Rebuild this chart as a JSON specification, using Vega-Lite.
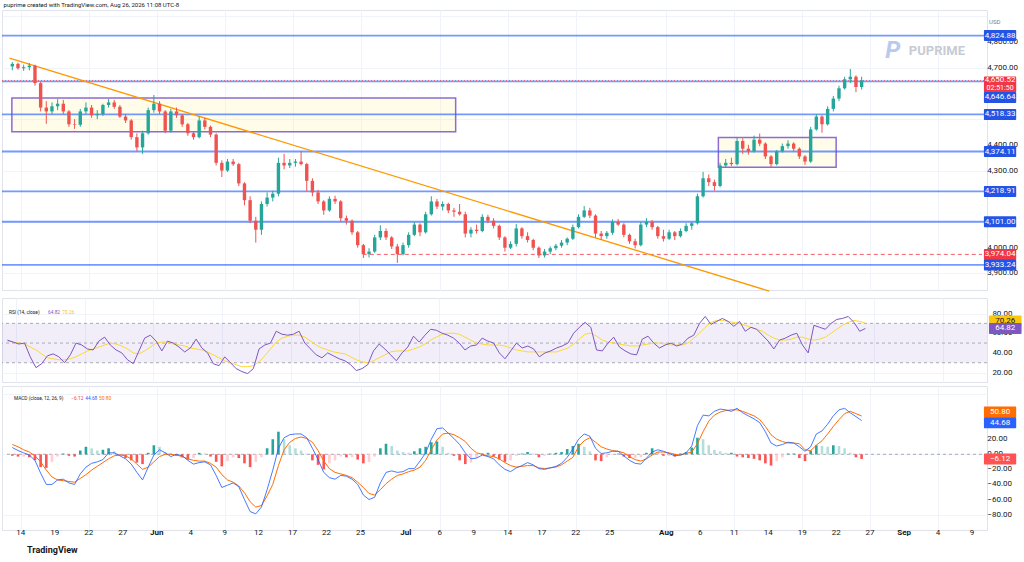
{
  "$schema": "https://vega.github.io/schema/vega-lite/v6.json",
  "background": "white",
  "padding": {"left": 0, "top": 1, "right": 0, "bottom": 0},
  "spacing": 2,
  "title": {"text": "puprime created with TradingView.com, Aug 26, 2026 11:08 UTC-8", "anchor": "start", "fontSize": 6, "fontWeight": "normal", "color": "#131722", "offset": 2, "dx": 3},
  "config": {
    "font": "Roboto",
    "view": {"stroke": "#e0e3eb"},
    "axis": {"labels": false, "gridColor": "#f0f3fa", "domain": false, "ticks": false, "title": null, "labelPadding": 0, "minExtent": 0, "maxExtent": 0},
    "text": {"font": "Roboto"}
  },
  "datasets": {
    "bars": [
      {"t":-0.75,"o":4705,"h":4722,"l":4690,"c":4715,"rsi":53,"rma":52,"macd":9,"sig":13,"hist":-2},
      {"t":-0.25,"o":4715,"h":4720,"l":4692,"c":4698,"rsi":51,"rma":51,"macd":5,"sig":10,"hist":-3},
      {"t":0.25,"o":4698,"h":4712,"l":4688,"c":4702,"rsi":49,"rma":50,"macd":2,"sig":6,"hist":-3},
      {"t":0.75,"o":4702,"h":4718,"l":4690,"c":4708,"rsi":50,"rma":49,"macd":-1,"sig":3,"hist":-4},
      {"t":1.25,"o":4708,"h":4712,"l":4630,"c":4640,"rsi":36,"rma":46,"macd":-8,"sig":-2,"hist":-8},
      {"t":1.75,"o":4640,"h":4645,"l":4530,"c":4545,"rsi":25,"rma":43,"macd":-25,"sig":-10,"hist":-17},
      {"t":2.25,"o":4545,"h":4570,"l":4482,"c":4530,"rsi":29,"rma":39,"macd":-40,"sig":-21,"hist":-18},
      {"t":2.75,"o":4530,"h":4565,"l":4520,"c":4550,"rsi":37,"rma":35,"macd":-40,"sig":-30,"hist":-10},
      {"t":3.25,"o":4550,"h":4578,"l":4535,"c":4560,"rsi":39,"rma":34,"macd":-34,"sig":-34,"hist":-3},
      {"t":3.75,"o":4560,"h":4575,"l":4520,"c":4530,"rsi":36,"rma":33,"macd":-33,"sig":-35,"hist":1},
      {"t":4.25,"o":4530,"h":4535,"l":4470,"c":4480,"rsi":30,"rma":33,"macd":-38,"sig":-36,"hist":-2},
      {"t":4.75,"o":4480,"h":4500,"l":4462,"c":4478,"rsi":38,"rma":34,"macd":-40,"sig":-37,"hist":-3},
      {"t":5.25,"o":4478,"h":4540,"l":4470,"c":4530,"rsi":50,"rma":36,"macd":-26,"sig":-32,"hist":5},
      {"t":5.75,"o":4530,"h":4565,"l":4520,"c":4545,"rsi":48,"rma":39,"macd":-17,"sig":-27,"hist":10},
      {"t":6.25,"o":4545,"h":4555,"l":4505,"c":4515,"rsi":44,"rma":42,"macd":-12,"sig":-21,"hist":8},
      {"t":6.75,"o":4515,"h":4535,"l":4500,"c":4520,"rsi":43,"rma":44,"macd":-10,"sig":-16,"hist":5},
      {"t":7.25,"o":4520,"h":4560,"l":4512,"c":4555,"rsi":52,"rma":46,"macd":-7,"sig":-11,"hist":6},
      {"t":7.75,"o":4555,"h":4578,"l":4545,"c":4565,"rsi":56,"rma":48,"macd":2,"sig":-6,"hist":8},
      {"t":8.25,"o":4565,"h":4575,"l":4540,"c":4548,"rsi":48,"rma":50,"macd":2,"sig":-2,"hist":4},
      {"t":8.75,"o":4548,"h":4555,"l":4505,"c":4510,"rsi":43,"rma":49,"macd":-2,"sig":-1,"hist":-1},
      {"t":9.25,"o":4510,"h":4520,"l":4485,"c":4495,"rsi":40,"rma":47,"macd":-6,"sig":-2,"hist":-5},
      {"t":9.75,"o":4495,"h":4500,"l":4420,"c":4430,"rsi":33,"rma":44,"macd":-13,"sig":-6,"hist":-8},
      {"t":10.25,"o":4430,"h":4445,"l":4375,"c":4390,"rsi":29,"rma":40,"macd":-24,"sig":-13,"hist":-11},
      {"t":10.75,"o":4390,"h":4455,"l":4365,"c":4445,"rsi":42,"rma":39,"macd":-34,"sig":-20,"hist":-13},
      {"t":11.25,"o":4445,"h":4545,"l":4440,"c":4535,"rsi":55,"rma":42,"macd":-17,"sig":-17,"hist":2},
      {"t":11.75,"o":4535,"h":4594,"l":4525,"c":4560,"rsi":58,"rma":46,"macd":-1,"sig":-10,"hist":12},
      {"t":12.25,"o":4560,"h":4570,"l":4520,"c":4530,"rsi":52,"rma":50,"macd":6,"sig":-3,"hist":10},
      {"t":12.75,"o":4530,"h":4535,"l":4445,"c":4455,"rsi":42,"rma":51,"macd":2,"sig":0,"hist":3},
      {"t":13.25,"o":4455,"h":4540,"l":4448,"c":4530,"rsi":52,"rma":51,"macd":-3,"sig":0,"hist":2},
      {"t":13.75,"o":4530,"h":4545,"l":4505,"c":4515,"rsi":50,"rma":49,"macd":0,"sig":-1,"hist":-2},
      {"t":14.25,"o":4515,"h":4520,"l":4470,"c":4480,"rsi":46,"rma":48,"macd":-2,"sig":-3,"hist":-4},
      {"t":14.75,"o":4480,"h":4485,"l":4435,"c":4445,"rsi":41,"rma":47,"macd":-8,"sig":-6,"hist":-7},
      {"t":15.25,"o":4445,"h":4450,"l":4420,"c":4430,"rsi":45,"rma":45,"macd":-13,"sig":-8,"hist":-5},
      {"t":15.75,"o":4430,"h":4511,"l":4425,"c":4495,"rsi":54,"rma":44,"macd":-11,"sig":-9,"hist":2},
      {"t":16.25,"o":4495,"h":4505,"l":4460,"c":4470,"rsi":45,"rma":43,"macd":-10,"sig":-9,"hist":1},
      {"t":16.75,"o":4470,"h":4475,"l":4430,"c":4440,"rsi":40,"rma":41,"macd":-14,"sig":-12,"hist":-3},
      {"t":17.25,"o":4440,"h":4445,"l":4320,"c":4330,"rsi":29,"rma":38,"macd":-28,"sig":-17,"hist":-10},
      {"t":17.75,"o":4330,"h":4340,"l":4275,"c":4300,"rsi":27,"rma":35,"macd":-44,"sig":-27,"hist":-16},
      {"t":18.25,"o":4300,"h":4345,"l":4295,"c":4335,"rsi":36,"rma":32,"macd":-41,"sig":-34,"hist":-9},
      {"t":18.75,"o":4335,"h":4345,"l":4318,"c":4325,"rsi":30,"rma":30,"macd":-38,"sig":-37,"hist":-4},
      {"t":19.25,"o":4325,"h":4330,"l":4240,"c":4250,"rsi":24,"rma":28,"macd":-43,"sig":-42,"hist":-5},
      {"t":19.75,"o":4250,"h":4255,"l":4165,"c":4185,"rsi":21,"rma":26,"macd":-60,"sig":-51,"hist":-12},
      {"t":20.25,"o":4185,"h":4200,"l":4095,"c":4105,"rsi":19,"rma":26,"macd":-76,"sig":-63,"hist":-17},
      {"t":20.75,"o":4105,"h":4120,"l":4020,"c":4070,"rsi":24,"rma":27,"macd":-79,"sig":-70,"hist":-10},
      {"t":21.25,"o":4070,"h":4180,"l":4050,"c":4170,"rsi":44,"rma":31,"macd":-70,"sig":-68,"hist":-4},
      {"t":21.75,"o":4170,"h":4215,"l":4160,"c":4195,"rsi":48,"rma":37,"macd":-47,"sig":-55,"hist":8},
      {"t":22.25,"o":4195,"h":4222,"l":4180,"c":4210,"rsi":50,"rma":44,"macd":-21,"sig":-40,"hist":20},
      {"t":22.75,"o":4210,"h":4350,"l":4200,"c":4330,"rsi":62,"rma":51,"macd":8,"sig":-15,"hist":30},
      {"t":23.25,"o":4330,"h":4365,"l":4305,"c":4320,"rsi":59,"rma":55,"macd":22,"sig":6,"hist":20},
      {"t":23.75,"o":4320,"h":4345,"l":4310,"c":4330,"rsi":58,"rma":57,"macd":26,"sig":16,"hist":12},
      {"t":24.25,"o":4330,"h":4345,"l":4315,"c":4335,"rsi":59,"rma":58,"macd":27,"sig":21,"hist":8},
      {"t":24.75,"o":4335,"h":4376,"l":4320,"c":4325,"rsi":62,"rma":58,"macd":27,"sig":23,"hist":5},
      {"t":25.25,"o":4325,"h":4330,"l":4220,"c":4260,"rsi":50,"rma":56,"macd":22,"sig":21,"hist":1},
      {"t":25.75,"o":4260,"h":4270,"l":4200,"c":4215,"rsi":44,"rma":52,"macd":8,"sig":16,"hist":-8},
      {"t":26.25,"o":4215,"h":4225,"l":4170,"c":4180,"rsi":38,"rma":48,"macd":-7,"sig":5,"hist":-14},
      {"t":26.75,"o":4180,"h":4185,"l":4128,"c":4145,"rsi":35,"rma":45,"macd":-24,"sig":-9,"hist":-20},
      {"t":27.25,"o":4145,"h":4200,"l":4140,"c":4190,"rsi":40,"rma":43,"macd":-31,"sig":-19,"hist":-12},
      {"t":27.75,"o":4190,"h":4202,"l":4170,"c":4180,"rsi":37,"rma":41,"macd":-33,"sig":-24,"hist":-8},
      {"t":28.25,"o":4180,"h":4185,"l":4100,"c":4115,"rsi":34,"rma":40,"macd":-28,"sig":-26,"hist":-3},
      {"t":28.75,"o":4115,"h":4125,"l":4090,"c":4105,"rsi":32,"rma":39,"macd":-29,"sig":-28,"hist":-4},
      {"t":29.25,"o":4105,"h":4110,"l":4050,"c":4060,"rsi":28,"rma":36,"macd":-33,"sig":-31,"hist":-4},
      {"t":29.75,"o":4060,"h":4065,"l":4000,"c":4010,"rsi":22,"rma":33,"macd":-40,"sig":-37,"hist":-7},
      {"t":30.25,"o":4010,"h":4015,"l":3960,"c":3975,"rsi":24,"rma":31,"macd":-54,"sig":-44,"hist":-12},
      {"t":30.75,"o":3975,"h":3998,"l":3962,"c":3985,"rsi":28,"rma":30,"macd":-60,"sig":-52,"hist":-10},
      {"t":31.25,"o":3985,"h":4050,"l":3980,"c":4040,"rsi":42,"rma":32,"macd":-57,"sig":-54,"hist":-3},
      {"t":31.75,"o":4040,"h":4087,"l":4030,"c":4065,"rsi":49,"rma":35,"macd":-38,"sig":-47,"hist":8},
      {"t":32.25,"o":4065,"h":4075,"l":4030,"c":4040,"rsi":44,"rma":38,"macd":-24,"sig":-39,"hist":14},
      {"t":32.75,"o":4040,"h":4045,"l":3995,"c":4005,"rsi":38,"rma":41,"macd":-22,"sig":-33,"hist":11},
      {"t":33.25,"o":4005,"h":4015,"l":3941,"c":3975,"rsi":32,"rma":42,"macd":-24,"sig":-28,"hist":5},
      {"t":33.75,"o":3975,"h":4020,"l":3970,"c":4010,"rsi":40,"rma":42,"macd":-23,"sig":-26,"hist":3},
      {"t":34.25,"o":4010,"h":4060,"l":4000,"c":4050,"rsi":46,"rma":42,"macd":-19,"sig":-23,"hist":2},
      {"t":34.75,"o":4050,"h":4100,"l":4045,"c":4090,"rsi":57,"rma":44,"macd":-19,"sig":-21,"hist":4},
      {"t":35.25,"o":4090,"h":4095,"l":4045,"c":4060,"rsi":51,"rma":46,"macd":-9,"sig":-17,"hist":8},
      {"t":35.75,"o":4060,"h":4140,"l":4055,"c":4130,"rsi":58,"rma":49,"macd":2,"sig":-8,"hist":10},
      {"t":36.25,"o":4130,"h":4200,"l":4125,"c":4180,"rsi":64,"rma":53,"macd":20,"sig":6,"hist":16},
      {"t":36.75,"o":4180,"h":4190,"l":4150,"c":4160,"rsi":63,"rma":56,"macd":34,"sig":19,"hist":17},
      {"t":37.25,"o":4160,"h":4180,"l":4145,"c":4170,"rsi":60,"rma":59,"macd":35,"sig":27,"hist":10},
      {"t":37.75,"o":4170,"h":4175,"l":4135,"c":4145,"rsi":58,"rma":60,"macd":28,"sig":28,"hist":2},
      {"t":38.25,"o":4145,"h":4155,"l":4120,"c":4140,"rsi":55,"rma":60,"macd":21,"sig":26,"hist":-2},
      {"t":38.75,"o":4140,"h":4170,"l":4125,"c":4130,"rsi":50,"rma":59,"macd":13,"sig":22,"hist":-8},
      {"t":39.25,"o":4130,"h":4140,"l":4040,"c":4055,"rsi":43,"rma":56,"macd":2,"sig":17,"hist":-13},
      {"t":39.75,"o":4055,"h":4080,"l":4040,"c":4070,"rsi":47,"rma":53,"macd":-6,"sig":8,"hist":-11},
      {"t":40.25,"o":4070,"h":4090,"l":4055,"c":4065,"rsi":48,"rma":50,"macd":-5,"sig":2,"hist":-5},
      {"t":40.75,"o":4065,"h":4130,"l":4060,"c":4120,"rsi":55,"rma":49,"macd":-1,"sig":0,"hist":1},
      {"t":41.25,"o":4120,"h":4128,"l":4095,"c":4105,"rsi":52,"rma":48,"macd":-3,"sig":-2,"hist":2},
      {"t":41.75,"o":4105,"h":4115,"l":4075,"c":4085,"rsi":50,"rma":48,"macd":-6,"sig":-3,"hist":-3},
      {"t":42.25,"o":4085,"h":4090,"l":4030,"c":4040,"rsi":40,"rma":48,"macd":-14,"sig":-6,"hist":-7},
      {"t":42.75,"o":4040,"h":4045,"l":3985,"c":4000,"rsi":34,"rma":47,"macd":-20,"sig":-11,"hist":-10},
      {"t":43.25,"o":4000,"h":4025,"l":3995,"c":4015,"rsi":42,"rma":45,"macd":-23,"sig":-15,"hist":-8},
      {"t":43.75,"o":4015,"h":4092,"l":4005,"c":4075,"rsi":50,"rma":43,"macd":-18,"sig":-17,"hist":-2},
      {"t":44.25,"o":4075,"h":4080,"l":4035,"c":4045,"rsi":45,"rma":42,"macd":-15,"sig":-16,"hist":1},
      {"t":44.75,"o":4045,"h":4060,"l":4020,"c":4030,"rsi":47,"rma":41,"macd":-11,"sig":-15,"hist":3},
      {"t":45.25,"o":4030,"h":4035,"l":3990,"c":4000,"rsi":44,"rma":41,"macd":-14,"sig":-15,"hist":1},
      {"t":45.75,"o":4000,"h":4005,"l":3960,"c":3970,"rsi":36,"rma":41,"macd":-19,"sig":-18,"hist":-4},
      {"t":46.25,"o":3970,"h":3995,"l":3962,"c":3985,"rsi":40,"rma":41,"macd":-20,"sig":-19,"hist":-2},
      {"t":46.75,"o":3985,"h":4005,"l":3975,"c":3998,"rsi":42,"rma":41,"macd":-18,"sig":-18,"hist":1},
      {"t":47.25,"o":3998,"h":4015,"l":3990,"c":4008,"rsi":45,"rma":41,"macd":-16,"sig":-17,"hist":2},
      {"t":47.75,"o":4008,"h":4030,"l":4000,"c":4020,"rsi":47,"rma":43,"macd":-12,"sig":-14,"hist":3},
      {"t":48.25,"o":4020,"h":4040,"l":4010,"c":4035,"rsi":50,"rma":45,"macd":-4,"sig":-9,"hist":7},
      {"t":48.75,"o":4035,"h":4090,"l":4030,"c":4080,"rsi":60,"rma":49,"macd":7,"sig":-4,"hist":11},
      {"t":49.25,"o":4080,"h":4130,"l":4075,"c":4120,"rsi":66,"rma":54,"macd":20,"sig":10,"hist":14},
      {"t":49.75,"o":4120,"h":4162,"l":4115,"c":4145,"rsi":71,"rma":59,"macd":27,"sig":18,"hist":10},
      {"t":50.25,"o":4145,"h":4155,"l":4115,"c":4125,"rsi":66,"rma":60,"macd":24,"sig":22,"hist":4},
      {"t":50.75,"o":4125,"h":4130,"l":4040,"c":4055,"rsi":43,"rma":57,"macd":8,"sig":16,"hist":-8},
      {"t":51.25,"o":4055,"h":4065,"l":4030,"c":4045,"rsi":42,"rma":53,"macd":1,"sig":10,"hist":-9},
      {"t":51.75,"o":4045,"h":4065,"l":4035,"c":4058,"rsi":50,"rma":51,"macd":2,"sig":7,"hist":-4},
      {"t":52.25,"o":4058,"h":4110,"l":4050,"c":4100,"rsi":56,"rma":50,"macd":4,"sig":5,"hist":-1},
      {"t":52.75,"o":4100,"h":4112,"l":4085,"c":4090,"rsi":46,"rma":49,"macd":4,"sig":4,"hist":1},
      {"t":53.25,"o":4090,"h":4095,"l":4040,"c":4050,"rsi":42,"rma":48,"macd":-2,"sig":2,"hist":-3},
      {"t":53.75,"o":4050,"h":4055,"l":4015,"c":4025,"rsi":39,"rma":47,"macd":-8,"sig":-3,"hist":-5},
      {"t":54.25,"o":4025,"h":4035,"l":3997,"c":4010,"rsi":38,"rma":47,"macd":-12,"sig":-7,"hist":-5},
      {"t":54.75,"o":4010,"h":4100,"l":4005,"c":4090,"rsi":54,"rma":48,"macd":-13,"sig":-9,"hist":-4},
      {"t":55.25,"o":4090,"h":4115,"l":4080,"c":4100,"rsi":57,"rma":49,"macd":-5,"sig":-6,"hist":2},
      {"t":55.75,"o":4100,"h":4108,"l":4070,"c":4080,"rsi":50,"rma":50,"macd":3,"sig":-1,"hist":8},
      {"t":56.25,"o":4080,"h":4085,"l":4035,"c":4045,"rsi":45,"rma":50,"macd":6,"sig":3,"hist":3},
      {"t":56.75,"o":4045,"h":4070,"l":4024,"c":4035,"rsi":48,"rma":49,"macd":4,"sig":3,"hist":-2},
      {"t":57.25,"o":4035,"h":4070,"l":4030,"c":4060,"rsi":50,"rma":48,"macd":1,"sig":2,"hist":-2},
      {"t":57.75,"o":4060,"h":4065,"l":4030,"c":4045,"rsi":47,"rma":48,"macd":-2,"sig":0,"hist":-3},
      {"t":58.25,"o":4045,"h":4075,"l":4040,"c":4065,"rsi":49,"rma":48,"macd":-1,"sig":-1,"hist":1},
      {"t":58.75,"o":4065,"h":4095,"l":4060,"c":4085,"rsi":55,"rma":50,"macd":2,"sig":1,"hist":3},
      {"t":59.25,"o":4085,"h":4100,"l":4070,"c":4095,"rsi":58,"rma":55,"macd":11,"sig":3,"hist":9},
      {"t":59.75,"o":4095,"h":4210,"l":4090,"c":4200,"rsi":70,"rma":60,"macd":38,"sig":14,"hist":22},
      {"t":60.25,"o":4200,"h":4295,"l":4195,"c":4270,"rsi":77,"rma":66,"macd":52,"sig":30,"hist":20},
      {"t":60.75,"o":4270,"h":4285,"l":4240,"c":4255,"rsi":69,"rma":71,"macd":51,"sig":44,"hist":12},
      {"t":61.25,"o":4255,"h":4265,"l":4222,"c":4240,"rsi":72,"rma":73,"macd":57,"sig":52,"hist":6},
      {"t":61.75,"o":4240,"h":4330,"l":4235,"c":4320,"rsi":75,"rma":73,"macd":60,"sig":56,"hist":4},
      {"t":62.25,"o":4320,"h":4345,"l":4312,"c":4330,"rsi":72,"rma":72,"macd":59,"sig":58,"hist":2},
      {"t":62.75,"o":4330,"h":4350,"l":4318,"c":4325,"rsi":67,"rma":71,"macd":57,"sig":59,"hist":2},
      {"t":63.25,"o":4325,"h":4429,"l":4320,"c":4415,"rsi":72,"rma":70,"macd":61,"sig":59,"hist":-3},
      {"t":63.75,"o":4415,"h":4425,"l":4365,"c":4385,"rsi":62,"rma":68,"macd":55,"sig":57,"hist":-4},
      {"t":64.25,"o":4385,"h":4400,"l":4362,"c":4375,"rsi":66,"rma":66,"macd":51,"sig":54,"hist":-5},
      {"t":64.75,"o":4375,"h":4436,"l":4370,"c":4420,"rsi":64,"rma":64,"macd":47,"sig":51,"hist":-6},
      {"t":65.25,"o":4420,"h":4444,"l":4395,"c":4405,"rsi":58,"rma":62,"macd":42,"sig":46,"hist":-8},
      {"t":65.75,"o":4405,"h":4410,"l":4345,"c":4355,"rsi":52,"rma":58,"macd":30,"sig":37,"hist":-12},
      {"t":66.25,"o":4355,"h":4360,"l":4312,"c":4325,"rsi":44,"rma":55,"macd":15,"sig":26,"hist":-15},
      {"t":66.75,"o":4325,"h":4380,"l":4320,"c":4375,"rsi":53,"rma":53,"macd":11,"sig":20,"hist":-9},
      {"t":67.25,"o":4375,"h":4405,"l":4370,"c":4395,"rsi":55,"rma":53,"macd":13,"sig":17,"hist":-4},
      {"t":67.75,"o":4395,"h":4418,"l":4385,"c":4405,"rsi":58,"rma":54,"macd":16,"sig":15,"hist":1},
      {"t":68.25,"o":4405,"h":4410,"l":4375,"c":4385,"rsi":60,"rma":56,"macd":15,"sig":15,"hist":1},
      {"t":68.75,"o":4385,"h":4390,"l":4345,"c":4355,"rsi":48,"rma":56,"macd":10,"sig":14,"hist":-5},
      {"t":69.25,"o":4355,"h":4360,"l":4322,"c":4335,"rsi":40,"rma":54,"macd":4,"sig":6,"hist":-9},
      {"t":69.75,"o":4335,"h":4470,"l":4330,"c":4460,"rsi":68,"rma":53,"macd":10,"sig":5,"hist":5},
      {"t":70.25,"o":4460,"h":4520,"l":4455,"c":4510,"rsi":66,"rma":54,"macd":27,"sig":12,"hist":12},
      {"t":70.75,"o":4510,"h":4515,"l":4447,"c":4480,"rsi":64,"rma":56,"macd":31,"sig":18,"hist":11},
      {"t":71.25,"o":4480,"h":4550,"l":4475,"c":4540,"rsi":70,"rma":60,"macd":40,"sig":27,"hist":10},
      {"t":71.75,"o":4540,"h":4590,"l":4530,"c":4580,"rsi":74,"rma":64,"macd":51,"sig":37,"hist":12},
      {"t":72.25,"o":4580,"h":4630,"l":4570,"c":4620,"rsi":75,"rma":68,"macd":59,"sig":46,"hist":11},
      {"t":72.75,"o":4620,"h":4665,"l":4615,"c":4655,"rsi":77,"rma":71,"macd":61,"sig":54,"hist":8},
      {"t":73.25,"o":4655,"h":4695,"l":4640,"c":4665,"rsi":71,"rma":73,"macd":55,"sig":57,"hist":2},
      {"t":73.75,"o":4665,"h":4670,"l":4605,"c":4625,"rsi":62,"rma":72,"macd":50,"sig":54,"hist":-4},
      {"t":74.25,"o":4625,"h":4665,"l":4615,"c":4650.52,"rsi":64.82,"rma":70.26,"macd":44.68,"sig":50.8,"hist":-6.12}
    ],
    "levels": [
      {"p": 4824.88}, {"p": 4646.64}, {"p": 4518.33}, {"p": 4374.11}, {"p": 4218.91}, {"p": 4101.00}, {"p": 3933.24}
    ],
    "zones": [
      {"t1": -0.79, "t2": 38.4, "p1": 4451, "p2": 4582},
      {"t1": 61.6, "t2": 72.0, "p1": 4313, "p2": 4429}
    ],
    "trend": [
      {"t": -1.0, "p": 4737},
      {"t": 66.1, "p": 3831}
    ],
    "ptags": [
      {"p": 4824.88, "label": "4,824.88", "kind": "level"},
      {"p": 4518.33, "label": "4,518.33", "kind": "level"},
      {"p": 4374.11, "label": "4,374.11", "kind": "level"},
      {"p": 4218.91, "label": "4,218.91", "kind": "level"},
      {"p": 4101.00, "label": "4,101.00", "kind": "level"},
      {"p": 3974.04, "label": "3,974.04", "kind": "alert"},
      {"p": 3933.24, "label": "3,933.24", "kind": "level"}
    ],
    "xticks": [
      {"d": 0, "lab": "14", "kind": "day"}, {"d": 3, "lab": "19", "kind": "day"}, {"d": 6, "lab": "22", "kind": "day"},
      {"d": 9, "lab": "27", "kind": "day"}, {"d": 12, "lab": "Jun", "kind": "month"}, {"d": 15, "lab": "4", "kind": "day"},
      {"d": 18, "lab": "9", "kind": "day"}, {"d": 21, "lab": "12", "kind": "day"}, {"d": 24, "lab": "17", "kind": "day"},
      {"d": 27, "lab": "22", "kind": "day"}, {"d": 30, "lab": "25", "kind": "day"}, {"d": 34, "lab": "Jul", "kind": "month"},
      {"d": 37, "lab": "6", "kind": "day"}, {"d": 40, "lab": "9", "kind": "day"}, {"d": 43, "lab": "14", "kind": "day"},
      {"d": 46, "lab": "17", "kind": "day"}, {"d": 49, "lab": "22", "kind": "day"}, {"d": 52, "lab": "25", "kind": "day"},
      {"d": 57, "lab": "Aug", "kind": "month"}, {"d": 60, "lab": "6", "kind": "day"}, {"d": 63, "lab": "11", "kind": "day"},
      {"d": 66, "lab": "14", "kind": "day"}, {"d": 69, "lab": "19", "kind": "day"}, {"d": 72, "lab": "22", "kind": "day"},
      {"d": 75, "lab": "27", "kind": "day"}, {"d": 78, "lab": "Sep", "kind": "month"}, {"d": 81, "lab": "4", "kind": "day"},
      {"d": 84, "lab": "9", "kind": "day"}
    ]
  },
  "vconcat": [
    {
      "width": 985,
      "height": 280,
      "layer": [
        {
          "data": {"name": "zones"},
          "mark": {"type": "rect", "fill": "#fff59d", "fillOpacity": 0.22, "stroke": "#8e6bd1", "strokeWidth": 1.5},
          "encoding": {
            "x": {"field": "t1", "type": "quantitative", "title": null, "scale": {"domain": [-1.22, 84.88], "nice": false, "zero": false},
              "axis": {"values": [0,3,6,9,12,15,18,21,24,27,30,34,37,40,43,46,49,52,57,60,63,66,69,72,75,78,81,84], "grid": true}},
            "x2": {"field": "t2"},
            "y": {"field": "p1", "type": "quantitative", "title": null, "scale": {"domain": [3855, 4905], "nice": false, "zero": false},
              "axis": {"orient": "right", "values": [3900,4000,4100,4200,4300,4400,4500,4600,4700,4800,4900], "grid": true}},
            "y2": {"field": "p2"}
          }
        },
        {
          "data": {"name": "levels"},
          "mark": {"type": "rule", "color": "#2962ff", "opacity": 0.65, "strokeWidth": 1.8},
          "encoding": {"y": {"field": "p", "type": "quantitative", "title": null, "scale": {"domain": [3855, 4905], "nice": false, "zero": false}}}
        },
        {
          "data": {"values": [{}]},
          "mark": {"type": "rule", "color": "#f23645", "opacity": 0.7, "strokeWidth": 1, "strokeDash": [1, 2]},
          "encoding": {"y": {"datum": 4650.52, "type": "quantitative", "scale": {"domain": [3855, 4905], "nice": false, "zero": false}}}
        },
        {
          "data": {"values": [{}]},
          "mark": {"type": "rule", "color": "#f23645", "opacity": 0.8, "strokeWidth": 1, "strokeDash": [4, 3]},
          "encoding": {
            "x": {"datum": 30.2, "type": "quantitative", "scale": {"domain": [-1.22, 84.88], "nice": false, "zero": false}},
            "x2": {"datum": 84.88},
            "y": {"datum": 3974.04, "type": "quantitative", "scale": {"domain": [3855, 4905], "nice": false, "zero": false}}
          }
        },
        {
          "data": {"name": "trend"},
          "mark": {"type": "line", "color": "#ff9800", "strokeWidth": 1.3},
          "encoding": {
            "x": {"field": "t", "type": "quantitative", "title": null, "scale": {"domain": [-1.22, 84.88], "nice": false, "zero": false}},
            "y": {"field": "p", "type": "quantitative", "title": null, "scale": {"domain": [3855, 4905], "nice": false, "zero": false}}
          }
        },
        {
          "data": {"name": "bars"},
          "mark": {"type": "rule", "strokeWidth": 1},
          "encoding": {
            "x": {"field": "t", "type": "quantitative", "title": null, "scale": {"domain": [-1.22, 84.88], "nice": false, "zero": false}},
            "y": {"field": "l", "type": "quantitative", "title": null, "scale": {"domain": [3855, 4905], "nice": false, "zero": false}},
            "y2": {"field": "h"},
            "color": {"condition": {"test": "datum.c >= datum.o", "value": "#26a69a"}, "value": "#ef5350"}
          }
        },
        {
          "data": {"name": "bars"},
          "mark": {"type": "bar", "size": 3.4},
          "encoding": {
            "x": {"field": "t", "type": "quantitative", "title": null, "scale": {"domain": [-1.22, 84.88], "nice": false, "zero": false}},
            "y": {"field": "o", "type": "quantitative", "title": null, "scale": {"domain": [3855, 4905], "nice": false, "zero": false}},
            "y2": {"field": "c"},
            "color": {"condition": {"test": "datum.c >= datum.o", "value": "#26a69a"}, "value": "#ef5350"}
          }
        },
        {
          "data": {"values": [{}]},
          "mark": {"type": "text", "fontSize": 24, "fontWeight": "bold", "fontStyle": "italic", "color": "#b8cbef", "align": "center", "baseline": "middle"},
          "encoding": {
            "x": {"datum": 77.0, "type": "quantitative", "scale": {"domain": [-1.22, 84.88], "nice": false, "zero": false}},
            "y": {"datum": 4764, "type": "quantitative", "scale": {"domain": [3855, 4905], "nice": false, "zero": false}},
            "text": {"value": "P"}
          }
        },
        {
          "data": {"values": [{}]},
          "mark": {"type": "text", "fontSize": 13, "fontWeight": "bold", "color": "#c6cbd4", "align": "center", "baseline": "middle"},
          "encoding": {
            "x": {"datum": 80.9, "type": "quantitative", "scale": {"domain": [-1.22, 84.88], "nice": false, "zero": false}},
            "y": {"datum": 4764, "type": "quantitative", "scale": {"domain": [3855, 4905], "nice": false, "zero": false}},
            "text": {"value": "PUPRIME"}
          }
        },
        {
          "data": {"values": [{}]},
          "mark": {"type": "text", "fontSize": 6, "color": "#787b86", "align": "left", "baseline": "middle"},
          "encoding": {
            "x": {"datum": 85.5, "type": "quantitative", "scale": {"domain": [-1.22, 84.88], "nice": false, "zero": false}},
            "y": {"datum": 4879, "type": "quantitative", "scale": {"domain": [3855, 4905], "nice": false, "zero": false}},
            "text": {"value": "USD"}
          }
        },
        {
          "data": {"values": [{"v": 3900}, {"v": 4000}, {"v": 4300}, {"v": 4400}, {"v": 4700}, {"v": 4800}]},
          "mark": {"type": "text", "fontSize": 8, "color": "#131722", "align": "left", "baseline": "middle"},
          "encoding": {
            "x": {"datum": 85.35, "type": "quantitative", "scale": {"domain": [-1.22, 84.88], "nice": false, "zero": false}},
            "y": {"field": "v", "type": "quantitative", "title": null, "scale": {"domain": [3855, 4905], "nice": false, "zero": false}},
            "text": {"field": "v", "format": ",.2f"}
          }
        },
        {
          "data": {"name": "ptags"},
          "mark": {"type": "bar", "size": 11, "cornerRadius": 1},
          "encoding": {
            "x": {"datum": 85.05, "type": "quantitative", "scale": {"domain": [-1.22, 84.88], "nice": false, "zero": false}},
            "x2": {"datum": 87.9},
            "y": {"field": "p", "type": "quantitative", "title": null, "scale": {"domain": [3855, 4905], "nice": false, "zero": false}},
            "color": {"field": "kind", "type": "nominal", "scale": {"domain": ["level", "alert"], "range": ["#2454e6", "#f23645"]}, "legend": null}
          }
        },
        {
          "data": {"name": "ptags"},
          "mark": {"type": "text", "fontSize": 8, "color": "white", "align": "center", "baseline": "middle"},
          "encoding": {
            "x": {"datum": 86.48, "type": "quantitative", "scale": {"domain": [-1.22, 84.88], "nice": false, "zero": false}},
            "y": {"field": "p", "type": "quantitative", "title": null, "scale": {"domain": [3855, 4905], "nice": false, "zero": false}},
            "text": {"field": "label"}
          }
        },
        {
          "data": {"values": [{"p": 4650.52}]},
          "mark": {"type": "bar", "size": 16, "cornerRadius": 1, "color": "#f23645", "yOffset": 4},
          "encoding": {
            "x": {"datum": 85.05, "type": "quantitative", "scale": {"domain": [-1.22, 84.88], "nice": false, "zero": false}},
            "x2": {"datum": 87.9},
            "y": {"field": "p", "type": "quantitative", "title": null, "scale": {"domain": [3855, 4905], "nice": false, "zero": false}}
          }
        },
        {
          "data": {"values": [{"p": 4650.52, "label": "4,650.52"}]},
          "mark": {"type": "text", "fontSize": 8, "color": "white", "align": "center", "baseline": "middle", "yOffset": 0},
          "encoding": {
            "x": {"datum": 86.48, "type": "quantitative", "scale": {"domain": [-1.22, 84.88], "nice": false, "zero": false}},
            "y": {"field": "p", "type": "quantitative", "title": null, "scale": {"domain": [3855, 4905], "nice": false, "zero": false}},
            "text": {"field": "label"}
          }
        },
        {
          "data": {"values": [{"p": 4650.52, "label": "02:51:50"}]},
          "mark": {"type": "text", "fontSize": 7, "color": "white", "align": "center", "baseline": "middle", "yOffset": 8},
          "encoding": {
            "x": {"datum": 86.48, "type": "quantitative", "scale": {"domain": [-1.22, 84.88], "nice": false, "zero": false}},
            "y": {"field": "p", "type": "quantitative", "title": null, "scale": {"domain": [3855, 4905], "nice": false, "zero": false}},
            "text": {"field": "label"}
          }
        },
        {
          "data": {"values": [{"p": 4646.64}]},
          "mark": {"type": "bar", "size": 11, "cornerRadius": 1, "color": "#2454e6", "yOffset": 16},
          "encoding": {
            "x": {"datum": 85.05, "type": "quantitative", "scale": {"domain": [-1.22, 84.88], "nice": false, "zero": false}},
            "x2": {"datum": 87.9},
            "y": {"field": "p", "type": "quantitative", "title": null, "scale": {"domain": [3855, 4905], "nice": false, "zero": false}}
          }
        },
        {
          "data": {"values": [{"p": 4646.64, "label": "4,646.64"}]},
          "mark": {"type": "text", "fontSize": 8, "color": "white", "align": "center", "baseline": "middle", "yOffset": 16},
          "encoding": {
            "x": {"datum": 86.48, "type": "quantitative", "scale": {"domain": [-1.22, 84.88], "nice": false, "zero": false}},
            "y": {"field": "p", "type": "quantitative", "title": null, "scale": {"domain": [3855, 4905], "nice": false, "zero": false}},
            "text": {"field": "label"}
          }
        }
      ]
    },
    {
      "width": 985,
      "height": 84,
      "layer": [
        {
          "data": {"values": [{}]},
          "mark": {"type": "rect", "color": "#7e57c2", "opacity": 0.1},
          "encoding": {
            "x": {"datum": -1.22, "type": "quantitative", "scale": {"domain": [-1.22, 84.88], "nice": false, "zero": false},
              "axis": {"values": [0,3,6,9,12,15,18,21,24,27,30,34,37,40,43,46,49,52,57,60,63,66,69,72,75,78,81,84], "grid": true}},
            "x2": {"datum": 84.88},
            "y": {"datum": 70, "type": "quantitative", "scale": {"domain": [15.5, 90.7], "nice": false, "zero": false},
              "axis": {"orient": "right", "values": [20, 40, 60, 80], "grid": true}},
            "y2": {"datum": 30}
          }
        },
        {
          "data": {"values": [{"v": 70}, {"v": 50}, {"v": 30}]},
          "mark": {"type": "rule", "color": "#9598a1", "strokeWidth": 0.8, "strokeDash": [3, 3]},
          "encoding": {"y": {"field": "v", "type": "quantitative", "title": null, "scale": {"domain": [15.5, 90.7], "nice": false, "zero": false}}}
        },
        {
          "data": {"name": "bars"},
          "mark": {"type": "line", "color": "#fdd835", "strokeWidth": 1},
          "encoding": {
            "x": {"field": "t", "type": "quantitative", "title": null, "scale": {"domain": [-1.22, 84.88], "nice": false, "zero": false}},
            "y": {"field": "rma", "type": "quantitative", "title": null, "scale": {"domain": [15.5, 90.7], "nice": false, "zero": false}}
          }
        },
        {
          "data": {"name": "bars"},
          "mark": {"type": "line", "color": "#7e57c2", "strokeWidth": 1},
          "encoding": {
            "x": {"field": "t", "type": "quantitative", "title": null, "scale": {"domain": [-1.22, 84.88], "nice": false, "zero": false}},
            "y": {"field": "rsi", "type": "quantitative", "title": null, "scale": {"domain": [15.5, 90.7], "nice": false, "zero": false}}
          }
        },
        {
          "data": {"values": [{}]},
          "mark": {"type": "text", "fontSize": 4.8, "color": "#131722", "align": "left", "baseline": "middle"},
          "encoding": {
            "x": {"datum": -0.61, "type": "quantitative", "scale": {"domain": [-1.22, 84.88], "nice": false, "zero": false}},
            "y": {"datum": 80.9, "type": "quantitative", "scale": {"domain": [15.5, 90.7], "nice": false, "zero": false}},
            "text": {"value": "RSI (14, close)"}
          }
        },
        {
          "data": {"values": [{}]},
          "mark": {"type": "text", "fontSize": 4.8, "color": "#7e57c2", "align": "left", "baseline": "middle"},
          "encoding": {
            "x": {"datum": 2.8, "type": "quantitative", "scale": {"domain": [-1.22, 84.88], "nice": false, "zero": false}},
            "y": {"datum": 80.9, "type": "quantitative", "scale": {"domain": [15.5, 90.7], "nice": false, "zero": false}},
            "text": {"value": "64.82"}
          }
        },
        {
          "data": {"values": [{}]},
          "mark": {"type": "text", "fontSize": 4.8, "color": "#f5c518", "align": "left", "baseline": "middle"},
          "encoding": {
            "x": {"datum": 4.05, "type": "quantitative", "scale": {"domain": [-1.22, 84.88], "nice": false, "zero": false}},
            "y": {"datum": 80.9, "type": "quantitative", "scale": {"domain": [15.5, 90.7], "nice": false, "zero": false}},
            "text": {"value": "70.26"}
          }
        },
        {
          "data": {"values": [{"v": 20}, {"v": 40}, {"v": 60}, {"v": 80}]},
          "mark": {"type": "text", "fontSize": 8, "color": "#131722", "align": "left", "baseline": "middle"},
          "encoding": {
            "x": {"datum": 85.35, "type": "quantitative", "scale": {"domain": [-1.22, 84.88], "nice": false, "zero": false}},
            "y": {"field": "v", "type": "quantitative", "title": null, "scale": {"domain": [15.5, 90.7], "nice": false, "zero": false}},
            "text": {"field": "v", "format": ".2f"}
          }
        },
        {
          "data": {"values": [{"v": 70.26}]},
          "mark": {"type": "bar", "size": 11, "cornerRadius": 1, "color": "#f9c80e", "yOffset": -2},
          "encoding": {
            "x": {"datum": 85.05, "type": "quantitative", "scale": {"domain": [-1.22, 84.88], "nice": false, "zero": false}},
            "x2": {"datum": 87.9},
            "y": {"field": "v", "type": "quantitative", "title": null, "scale": {"domain": [15.5, 90.7], "nice": false, "zero": false}}
          }
        },
        {
          "data": {"values": [{"v": 70.26, "label": "70.26"}]},
          "mark": {"type": "text", "fontSize": 8, "color": "#131722", "align": "center", "baseline": "middle", "yOffset": -2},
          "encoding": {
            "x": {"datum": 86.48, "type": "quantitative", "scale": {"domain": [-1.22, 84.88], "nice": false, "zero": false}},
            "y": {"field": "v", "type": "quantitative", "title": null, "scale": {"domain": [15.5, 90.7], "nice": false, "zero": false}},
            "text": {"field": "label"}
          }
        },
        {
          "data": {"values": [{"v": 64.82}]},
          "mark": {"type": "bar", "size": 11, "cornerRadius": 1, "color": "#7e57c2"},
          "encoding": {
            "x": {"datum": 85.05, "type": "quantitative", "scale": {"domain": [-1.22, 84.88], "nice": false, "zero": false}},
            "x2": {"datum": 87.9},
            "y": {"field": "v", "type": "quantitative", "title": null, "scale": {"domain": [15.5, 90.7], "nice": false, "zero": false}}
          }
        },
        {
          "data": {"values": [{"v": 64.82, "label": "64.82"}]},
          "mark": {"type": "text", "fontSize": 8, "color": "white", "align": "center", "baseline": "middle"},
          "encoding": {
            "x": {"datum": 86.48, "type": "quantitative", "scale": {"domain": [-1.22, 84.88], "nice": false, "zero": false}},
            "y": {"field": "v", "type": "quantitative", "title": null, "scale": {"domain": [15.5, 90.7], "nice": false, "zero": false}},
            "text": {"field": "label"}
          }
        }
      ]
    },
    {
      "width": 985,
      "height": 144,
      "layer": [
        {
          "data": {"values": [{}]},
          "mark": {"type": "rule", "color": "#9598a1", "strokeWidth": 0.8, "strokeDash": [3, 3]},
          "encoding": {
            "x": {"datum": -1.22, "type": "quantitative", "scale": {"domain": [-1.22, 84.88], "nice": false, "zero": false},
              "axis": {"values": [0,3,6,9,12,15,18,21,24,27,30,34,37,40,43,46,49,52,57,60,63,66,69,72,75,78,81,84], "grid": true}},
            "x2": {"datum": 84.88},
            "y": {"datum": 0, "type": "quantitative", "scale": {"domain": [-93.8, 84], "nice": false, "zero": false},
              "axis": {"orient": "right", "values": [-80, -60, -40, -20, 0, 20, 40, 60, 80], "grid": true}}
          }
        },
        {
          "data": {"name": "bars"},
          "transform": [{"window": [{"op": "lag", "field": "hist", "as": "ph"}], "sort": [{"field": "t", "order": "ascending"}]}],
          "mark": {"type": "bar", "size": 2.6},
          "encoding": {
            "x": {"field": "t", "type": "quantitative", "title": null, "scale": {"domain": [-1.22, 84.88], "nice": false, "zero": false}},
            "y": {"field": "hist", "type": "quantitative", "title": null, "scale": {"domain": [-93.8, 84], "nice": false, "zero": false}},
            "y2": {"datum": 0},
            "color": {"condition": [
              {"test": "datum.hist >= 0 && (datum.ph == null || datum.hist >= datum.ph)", "value": "#26a69a"},
              {"test": "datum.hist >= 0", "value": "#b2dfdb"},
              {"test": "datum.ph == null || datum.hist < datum.ph", "value": "#ff5252"}
            ], "value": "#ffcdd2"}
          }
        },
        {
          "data": {"name": "bars"},
          "mark": {"type": "line", "color": "#ff6d00", "strokeWidth": 1},
          "encoding": {
            "x": {"field": "t", "type": "quantitative", "title": null, "scale": {"domain": [-1.22, 84.88], "nice": false, "zero": false}},
            "y": {"field": "sig", "type": "quantitative", "title": null, "scale": {"domain": [-93.8, 84], "nice": false, "zero": false}}
          }
        },
        {
          "data": {"name": "bars"},
          "mark": {"type": "line", "color": "#2962ff", "strokeWidth": 1, "opacity": 0.85},
          "encoding": {
            "x": {"field": "t", "type": "quantitative", "title": null, "scale": {"domain": [-1.22, 84.88], "nice": false, "zero": false}},
            "y": {"field": "macd", "type": "quantitative", "title": null, "scale": {"domain": [-93.8, 84], "nice": false, "zero": false}}
          }
        },
        {
          "data": {"values": [{}]},
          "mark": {"type": "text", "fontSize": 4.8, "color": "#131722", "align": "left", "baseline": "middle"},
          "encoding": {
            "x": {"datum": -0.61, "type": "quantitative", "scale": {"domain": [-1.22, 84.88], "nice": false, "zero": false}},
            "y": {"datum": 72.8, "type": "quantitative", "scale": {"domain": [-93.8, 84], "nice": false, "zero": false}},
            "text": {"value": "MACD (close, 12, 26, 9)"}
          }
        },
        {
          "data": {"values": [{}]},
          "mark": {"type": "text", "fontSize": 4.8, "color": "#f23645", "align": "left", "baseline": "middle"},
          "encoding": {
            "x": {"datum": 4.46, "type": "quantitative", "scale": {"domain": [-1.22, 84.88], "nice": false, "zero": false}},
            "y": {"datum": 72.8, "type": "quantitative", "scale": {"domain": [-93.8, 84], "nice": false, "zero": false}},
            "text": {"value": "−6.12"}
          }
        },
        {
          "data": {"values": [{}]},
          "mark": {"type": "text", "fontSize": 4.8, "color": "#2962ff", "align": "left", "baseline": "middle"},
          "encoding": {
            "x": {"datum": 5.69, "type": "quantitative", "scale": {"domain": [-1.22, 84.88], "nice": false, "zero": false}},
            "y": {"datum": 72.8, "type": "quantitative", "scale": {"domain": [-93.8, 84], "nice": false, "zero": false}},
            "text": {"value": "44.68"}
          }
        },
        {
          "data": {"values": [{}]},
          "mark": {"type": "text", "fontSize": 4.8, "color": "#ff6d00", "align": "left", "baseline": "middle"},
          "encoding": {
            "x": {"datum": 6.91, "type": "quantitative", "scale": {"domain": [-1.22, 84.88], "nice": false, "zero": false}},
            "y": {"datum": 72.8, "type": "quantitative", "scale": {"domain": [-93.8, 84], "nice": false, "zero": false}},
            "text": {"value": "50.80"}
          }
        },
        {
          "data": {"values": [{"v": -80}, {"v": -60}, {"v": -40}, {"v": -20}, {"v": 0}, {"v": 20}]},
          "mark": {"type": "text", "fontSize": 8, "color": "#131722", "align": "left", "baseline": "middle"},
          "encoding": {
            "x": {"datum": 85.35, "type": "quantitative", "scale": {"domain": [-1.22, 84.88], "nice": false, "zero": false}},
            "y": {"field": "v", "type": "quantitative", "title": null, "scale": {"domain": [-93.8, 84], "nice": false, "zero": false}},
            "text": {"field": "v", "format": ".2f"}
          }
        },
        {
          "data": {"name": "xticks"},
          "transform": [{"filter": "datum.kind == 'day'"}],
          "mark": {"type": "text", "fontSize": 8, "color": "#131722", "align": "center", "baseline": "middle"},
          "encoding": {
            "x": {"field": "d", "type": "quantitative", "title": null, "scale": {"domain": [-1.22, 84.88], "nice": false, "zero": false}},
            "y": {"datum": -104.9, "type": "quantitative", "scale": {"domain": [-93.8, 84], "nice": false, "zero": false}},
            "text": {"field": "lab"}
          }
        },
        {
          "data": {"name": "xticks"},
          "transform": [{"filter": "datum.kind == 'month'"}],
          "mark": {"type": "text", "fontSize": 8, "fontWeight": "bold", "color": "#131722", "align": "center", "baseline": "middle"},
          "encoding": {
            "x": {"field": "d", "type": "quantitative", "title": null, "scale": {"domain": [-1.22, 84.88], "nice": false, "zero": false}},
            "y": {"datum": -104.9, "type": "quantitative", "scale": {"domain": [-93.8, 84], "nice": false, "zero": false}},
            "text": {"field": "lab"}
          }
        },
        {
          "data": {"values": [{}]},
          "mark": {"type": "text", "fontSize": 9, "fontWeight": "bold", "color": "#131722", "align": "left", "baseline": "middle"},
          "encoding": {
            "x": {"datum": 0.55, "type": "quantitative", "scale": {"domain": [-1.22, 84.88], "nice": false, "zero": false}},
            "y": {"datum": -127, "type": "quantitative", "scale": {"domain": [-93.8, 84], "nice": false, "zero": false}},
            "text": {"value": "TradingView"}
          }
        },
        {
          "data": {"values": [{"v": 50.8}]},
          "mark": {"type": "bar", "size": 11, "cornerRadius": 1, "color": "#ff6d00", "yOffset": -4},
          "encoding": {
            "x": {"datum": 85.05, "type": "quantitative", "scale": {"domain": [-1.22, 84.88], "nice": false, "zero": false}},
            "x2": {"datum": 87.9},
            "y": {"field": "v", "type": "quantitative", "title": null, "scale": {"domain": [-93.8, 84], "nice": false, "zero": false}}
          }
        },
        {
          "data": {"values": [{"v": 50.8, "label": "50.80"}]},
          "mark": {"type": "text", "fontSize": 8, "color": "white", "align": "center", "baseline": "middle", "yOffset": -4},
          "encoding": {
            "x": {"datum": 86.48, "type": "quantitative", "scale": {"domain": [-1.22, 84.88], "nice": false, "zero": false}},
            "y": {"field": "v", "type": "quantitative", "title": null, "scale": {"domain": [-93.8, 84], "nice": false, "zero": false}},
            "text": {"field": "label"}
          }
        },
        {
          "data": {"values": [{"v": 44.68}]},
          "mark": {"type": "bar", "size": 11, "cornerRadius": 1, "color": "#2962ff", "yOffset": 2},
          "encoding": {
            "x": {"datum": 85.05, "type": "quantitative", "scale": {"domain": [-1.22, 84.88], "nice": false, "zero": false}},
            "x2": {"datum": 87.9},
            "y": {"field": "v", "type": "quantitative", "title": null, "scale": {"domain": [-93.8, 84], "nice": false, "zero": false}}
          }
        },
        {
          "data": {"values": [{"v": 44.68, "label": "44.68"}]},
          "mark": {"type": "text", "fontSize": 8, "color": "white", "align": "center", "baseline": "middle", "yOffset": 2},
          "encoding": {
            "x": {"datum": 86.48, "type": "quantitative", "scale": {"domain": [-1.22, 84.88], "nice": false, "zero": false}},
            "y": {"field": "v", "type": "quantitative", "title": null, "scale": {"domain": [-93.8, 84], "nice": false, "zero": false}},
            "text": {"field": "label"}
          }
        },
        {
          "data": {"values": [{"v": -6.12}]},
          "mark": {"type": "bar", "size": 11, "cornerRadius": 1, "color": "#ff5252"},
          "encoding": {
            "x": {"datum": 85.05, "type": "quantitative", "scale": {"domain": [-1.22, 84.88], "nice": false, "zero": false}},
            "x2": {"datum": 87.9},
            "y": {"field": "v", "type": "quantitative", "title": null, "scale": {"domain": [-93.8, 84], "nice": false, "zero": false}}
          }
        },
        {
          "data": {"values": [{"v": -6.12, "label": "−6.12"}]},
          "mark": {"type": "text", "fontSize": 8, "color": "white", "align": "center", "baseline": "middle"},
          "encoding": {
            "x": {"datum": 86.48, "type": "quantitative", "scale": {"domain": [-1.22, 84.88], "nice": false, "zero": false}},
            "y": {"field": "v", "type": "quantitative", "title": null, "scale": {"domain": [-93.8, 84], "nice": false, "zero": false}},
            "text": {"field": "label"}
          }
        }
      ]
    }
  ]
}
